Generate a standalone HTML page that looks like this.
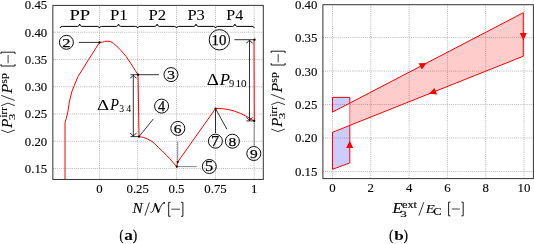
<!DOCTYPE html><html><head><meta charset="utf-8"><style>html,body{margin:0;padding:0;background:#fff;overflow:hidden}svg{display:block;will-change:transform}text{font-family:"Liberation Serif",serif;fill:#000;stroke:#000;stroke-width:0.12px}</style></head><body>
<svg width="534" height="244" viewBox="0 0 534 244">
<line x1="99.50" y1="5.4" x2="99.50" y2="179.45" stroke="#9a9a9a" stroke-width="0.7" stroke-dasharray="1 1.1"/>
<line x1="137.70" y1="5.4" x2="137.70" y2="179.45" stroke="#9a9a9a" stroke-width="0.7" stroke-dasharray="1 1.1"/>
<line x1="176.50" y1="5.4" x2="176.50" y2="179.45" stroke="#9a9a9a" stroke-width="0.7" stroke-dasharray="1 1.1"/>
<line x1="215.50" y1="5.4" x2="215.50" y2="179.45" stroke="#9a9a9a" stroke-width="0.7" stroke-dasharray="1 1.1"/>
<line x1="254.20" y1="5.4" x2="254.20" y2="179.45" stroke="#9a9a9a" stroke-width="0.7" stroke-dasharray="1 1.1"/>
<line x1="52.85" y1="168.50" x2="263.3" y2="168.50" stroke="#9a9a9a" stroke-width="0.7" stroke-dasharray="1 1.1"/>
<line x1="52.85" y1="141.25" x2="263.3" y2="141.25" stroke="#9a9a9a" stroke-width="0.7" stroke-dasharray="1 1.1"/>
<line x1="52.85" y1="114.00" x2="263.3" y2="114.00" stroke="#9a9a9a" stroke-width="0.7" stroke-dasharray="1 1.1"/>
<line x1="52.85" y1="86.75" x2="263.3" y2="86.75" stroke="#9a9a9a" stroke-width="0.7" stroke-dasharray="1 1.1"/>
<line x1="52.85" y1="59.50" x2="263.3" y2="59.50" stroke="#9a9a9a" stroke-width="0.7" stroke-dasharray="1 1.1"/>
<line x1="52.85" y1="32.25" x2="263.3" y2="32.25" stroke="#9a9a9a" stroke-width="0.7" stroke-dasharray="1 1.1"/>
<polyline points="65.00,179.20 65.00,122.70 66.30,118.30 67.80,112.10 69.50,101.00 72.00,91.20 74.40,85.10 78.00,76.50 88.70,59.40 99.50,42.40 102.60,42.20 104.60,41.40 108.00,41.20 110.60,41.60 113.50,43.40 116.40,45.80 121.30,50.80 126.20,56.50 131.10,63.90 135.20,70.40 138.00,74.70 139.00,136.70 141.00,136.90 143.40,137.50 147.10,138.80 150.80,140.70 154.50,143.60 158.20,147.20 162.30,151.00 166.40,155.20 170.00,158.90 173.40,162.90 176.80,166.70 177.70,162.00 215.50,108.60 219.00,108.50 222.30,108.70 228.40,109.50 234.60,111.20 240.70,113.50 246.90,116.60 251.80,119.50 254.30,121.00 254.00,39.70" fill="none" stroke="#ff0000" stroke-width="1" stroke-linejoin="round"/>
<rect x="52.85" y="5.4" width="210.45" height="174.05" fill="none" stroke="#333" stroke-width="1"/>
<text x="47.2" y="172.95" font-size="12.8" text-anchor="end">0.15</text>
<text x="47.2" y="145.70" font-size="12.8" text-anchor="end">0.20</text>
<text x="47.2" y="118.45" font-size="12.8" text-anchor="end">0.25</text>
<text x="47.2" y="91.20" font-size="12.8" text-anchor="end">0.30</text>
<text x="47.2" y="63.95" font-size="12.8" text-anchor="end">0.35</text>
<text x="47.2" y="36.70" font-size="12.8" text-anchor="end">0.40</text>
<text x="47.2" y="9.45" font-size="12.8" text-anchor="end">0.45</text>
<text x="99.50" y="192.9" font-size="12.8" text-anchor="middle">0</text>
<text x="137.70" y="192.9" font-size="12.8" text-anchor="middle">0.25</text>
<text x="176.50" y="192.9" font-size="12.8" text-anchor="middle">0.5</text>
<text x="215.50" y="192.9" font-size="12.8" text-anchor="middle">0.75</text>
<text x="254.20" y="192.9" font-size="12.8" text-anchor="middle">1</text>
<path d="M60.00,28.00 Q60.50,26.4 62.20,26.4 L77.50,26.4 Q79.20,26.4 79.70,24.10 Q80.20,26.4 81.90,26.4 L97.20,26.4 Q98.90,26.4 99.40,28.00 M99.40,28.00 Q99.90,26.4 101.60,26.4 L116.35,26.4 Q118.05,26.4 118.55,24.10 Q119.05,26.4 120.75,26.4 L135.50,26.4 Q137.20,26.4 137.70,28.00 M137.70,28.00 Q138.20,26.4 139.90,26.4 L154.90,26.4 Q156.60,26.4 157.10,24.10 Q157.60,26.4 159.30,26.4 L174.30,26.4 Q176.00,26.4 176.50,28.00 M176.50,28.00 Q177.00,26.4 178.70,26.4 L193.80,26.4 Q195.50,26.4 196.00,24.10 Q196.50,26.4 198.20,26.4 L213.30,26.4 Q215.00,26.4 215.50,28.00 M215.50,28.00 Q216.00,26.4 217.70,26.4 L232.70,26.4 Q234.40,26.4 234.90,24.10 Q235.40,26.4 237.10,26.4 L252.10,26.4 Q253.80,26.4 254.30,28.00" fill="none" stroke="#000" stroke-width="1.0"/>
<text x="69.44" y="19.50" font-size="15.11" textLength="20.75" lengthAdjust="spacingAndGlyphs" style="stroke-width:0.05px">PP</text>
<text x="109.95" y="19.50" font-size="15.00" textLength="17.73" lengthAdjust="spacingAndGlyphs" style="stroke-width:0.05px">P1</text>
<text x="148.50" y="19.50" font-size="14.94" textLength="17.64" lengthAdjust="spacingAndGlyphs" style="stroke-width:0.05px">P2</text>
<text x="187.41" y="19.50" font-size="14.94" textLength="17.37" lengthAdjust="spacingAndGlyphs" style="stroke-width:0.05px">P3</text>
<text x="226.32" y="19.50" font-size="15.06" textLength="16.94" lengthAdjust="spacingAndGlyphs" style="stroke-width:0.05px">P4</text>
<line x1="78.7" y1="42.4" x2="99.5" y2="42.4" stroke="#000" stroke-width="0.8"/>
<line x1="130.5" y1="74.7" x2="158.8" y2="74.7" stroke="#000" stroke-width="0.8"/>
<line x1="130.5" y1="136.6" x2="139.0" y2="136.6" stroke="#000" stroke-width="0.8"/>
<line x1="139.0" y1="136.6" x2="153.4" y2="118.9" stroke="#000" stroke-width="0.8"/>
<line x1="176.8" y1="166.6" x2="196.8" y2="166.6" stroke="#707070" stroke-width="0.85"/>
<line x1="177.7" y1="162.0" x2="177.7" y2="141.5" stroke="#707070" stroke-width="0.85"/>
<line x1="215.5" y1="108.6" x2="215.5" y2="133" stroke="#000" stroke-width="0.8"/>
<line x1="215.5" y1="108.6" x2="226.9" y2="129.2" stroke="#000" stroke-width="0.8"/>
<line x1="254.2" y1="121.0" x2="254.2" y2="145.9" stroke="#707070" stroke-width="0.85"/>
<line x1="246.3" y1="120.9" x2="254.3" y2="120.9" stroke="#000" stroke-width="0.8"/>
<line x1="234.4" y1="39.7" x2="255" y2="39.7" stroke="#000" stroke-width="0.8"/>
<line x1="133.3" y1="75.2" x2="133.3" y2="136.2" stroke="#000" stroke-width="0.8"/>
<path d="M130.10,78.20 Q132.70,76.55 133.30,75.20 Q133.90,76.55 136.50,78.20" fill="none" stroke="#000" stroke-width="0.8"/>
<path d="M130.10,133.20 Q132.70,134.85 133.30,136.20 Q133.90,134.85 136.50,133.20" fill="none" stroke="#000" stroke-width="0.8"/>
<line x1="249.5" y1="40.1" x2="249.5" y2="120.5" stroke="#000" stroke-width="0.8"/>
<path d="M246.30,43.10 Q248.90,41.45 249.50,40.10 Q250.10,41.45 252.70,43.10" fill="none" stroke="#000" stroke-width="0.8"/>
<path d="M246.30,117.50 Q248.90,119.15 249.50,120.50 Q250.10,119.15 252.70,117.50" fill="none" stroke="#000" stroke-width="0.8"/>
<circle cx="99.5" cy="42.4" r="1.1" fill="#000"/>
<circle cx="138.0" cy="74.7" r="1.1" fill="#000"/>
<circle cx="139.0" cy="136.6" r="1.1" fill="#000"/>
<circle cx="176.8" cy="166.7" r="1.1" fill="#000"/>
<circle cx="177.7" cy="162.0" r="1.1" fill="#000"/>
<circle cx="215.5" cy="108.6" r="1.1" fill="#000"/>
<circle cx="254.3" cy="120.9" r="1.1" fill="#000"/>
<circle cx="254.6" cy="39.7" r="1.1" fill="#000"/>
<circle cx="66.4" cy="42.3" r="7.0" fill="none" stroke="#000" stroke-width="0.95"/><text x="62.36" y="46.75" font-size="13.43" textLength="8.25" lengthAdjust="spacingAndGlyphs" style="stroke-width:0.25px">2</text>
<circle cx="171" cy="74.6" r="7.0" fill="none" stroke="#000" stroke-width="0.95"/><text x="166.94" y="79.05" font-size="13.43" textLength="8.00" lengthAdjust="spacingAndGlyphs" style="stroke-width:0.25px">3</text>
<circle cx="161.6" cy="106.1" r="7.0" fill="none" stroke="#000" stroke-width="0.95"/><text x="158.02" y="110.55" font-size="13.54" textLength="7.10" lengthAdjust="spacingAndGlyphs" style="stroke-width:0.25px">4</text>
<circle cx="209.3" cy="166.5" r="7.0" fill="none" stroke="#000" stroke-width="0.95"/><text x="205.06" y="170.95" font-size="13.59" textLength="8.20" lengthAdjust="spacingAndGlyphs" style="stroke-width:0.25px">5</text>
<circle cx="177.8" cy="128.4" r="7.0" fill="none" stroke="#000" stroke-width="0.95"/><text x="173.84" y="132.85" font-size="13.43" textLength="7.72" lengthAdjust="spacingAndGlyphs" style="stroke-width:0.25px">6</text>
<circle cx="215.4" cy="141.2" r="7.0" fill="none" stroke="#000" stroke-width="0.95"/><text x="211.04" y="145.65" font-size="13.59" textLength="8.15" lengthAdjust="spacingAndGlyphs" style="stroke-width:0.25px">7</text>
<circle cx="232.4" cy="141.2" r="7.0" fill="none" stroke="#000" stroke-width="0.95"/><text x="228.52" y="145.65" font-size="13.38" textLength="7.76" lengthAdjust="spacingAndGlyphs" style="stroke-width:0.25px">8</text>
<circle cx="253.8" cy="153.5" r="7.0" fill="none" stroke="#000" stroke-width="0.95"/><text x="250.00" y="157.95" font-size="13.43" textLength="7.72" lengthAdjust="spacingAndGlyphs" style="stroke-width:0.25px">9</text>
<circle cx="219.4" cy="39.8" r="10.2" fill="none" stroke="#000" stroke-width="0.95"/><text x="211.60" y="44.60" font-size="14.44" textLength="14.86" lengthAdjust="spacingAndGlyphs" style="stroke-width:0.25px">10</text>
<text x="97.09" y="109.60" font-size="15.61" textLength="12.13" lengthAdjust="spacingAndGlyphs" style="stroke-width:0.03px">Δ</text>
<text x="110.27" y="109.60" font-size="15.73" font-style="italic" textLength="8.70" lengthAdjust="spacingAndGlyphs" style="stroke-width:0.03px">P</text>
<text x="119.34" y="111.80" font-size="9.51" textLength="4.85" lengthAdjust="spacingAndGlyphs" style="stroke-width:0.03px">3</text>
<text x="126.20" y="111.80" font-size="9.58" textLength="4.95" lengthAdjust="spacingAndGlyphs" style="stroke-width:0.03px">4</text>
<text x="206.79" y="85.00" font-size="15.76" textLength="12.13" lengthAdjust="spacingAndGlyphs" style="stroke-width:0.03px">Δ</text>
<text x="219.88" y="85.00" font-size="15.88" font-style="italic" textLength="10.25" lengthAdjust="spacingAndGlyphs" style="stroke-width:0.03px">P</text>
<text x="228.96" y="86.60" font-size="9.81" textLength="5.26" lengthAdjust="spacingAndGlyphs" style="stroke-width:0.03px">9</text>
<text x="235.52" y="86.60" font-size="9.77" textLength="11.20" lengthAdjust="spacingAndGlyphs" style="stroke-width:0.03px">10</text>
<g transform="translate(12.0,135) rotate(-90)"><path d="M4.9,-10.8 L2.4,-4.1 L4.9,2.8" fill="none" stroke="#000" stroke-width="0.8"/><text x="6.98" y="0.00" font-size="14.50" font-style="italic" textLength="9.42" lengthAdjust="spacingAndGlyphs">P</text><text x="14.90" y="2.70" font-size="9.06" textLength="6.30" lengthAdjust="spacingAndGlyphs">3</text><text x="17.48" y="-5.00" font-size="10.26" textLength="10.32" lengthAdjust="spacingAndGlyphs">irr</text><path d="M29.4,-10.8 L31.9,-4.1 L29.4,2.8" fill="none" stroke="#000" stroke-width="0.8"/><line x1="34.5" y1="2.7" x2="39.7" y2="-10.9" stroke="#000" stroke-width="0.8"/><text x="41.58" y="0.00" font-size="14.50" font-style="italic" textLength="9.73" lengthAdjust="spacingAndGlyphs">P</text><text x="51.33" y="-5.30" font-size="9.60" textLength="10.43" lengthAdjust="spacingAndGlyphs">sp</text><path d="M70.90,-11.00 L69.00,-11.00 L69.00,3.00 L70.90,3.00" fill="none" stroke="#000" stroke-width="0.9"/><line x1="71.7" y1="-3.9" x2="80.0" y2="-3.9" stroke="#000" stroke-width="0.75"/><path d="M80.90,-11.00 L82.80,-11.00 L82.80,3.00 L80.90,3.00" fill="none" stroke="#000" stroke-width="0.9"/></g>
<text x="132.41" y="212.50" font-size="13.89" font-style="italic" textLength="10.19" lengthAdjust="spacingAndGlyphs">N</text>
<line x1="144.9" y1="215.7" x2="149.4" y2="202.4" stroke="#000" stroke-width="0.8"/>
<path d="M150.4,212.0 Q151.6,213.0 153.0,211.2 L155.4,203.4" fill="none" stroke="#000" stroke-width="0.85"/><path d="M155.2,203.2 L158.6,212.4" fill="none" stroke="#000" stroke-width="1.7"/><path d="M158.4,212.6 Q160.3,206.5 162.0,204.2 Q163.0,203.0 164.6,202.8" fill="none" stroke="#000" stroke-width="0.85"/><circle cx="164.2" cy="202.9" r="0.8" fill="#000"/>
<path d="M170.50,202.30 L168.70,202.30 L168.70,216.30 L170.50,216.30" fill="none" stroke="#000" stroke-width="0.9"/>
<line x1="171.3" y1="209.2" x2="180.0" y2="209.2" stroke="#000" stroke-width="0.75"/>
<path d="M181.10,202.30 L182.90,202.30 L182.90,216.30 L181.10,216.30" fill="none" stroke="#000" stroke-width="0.9"/>
<text x="119.39" y="240.40" font-size="15.40" textLength="3.79" lengthAdjust="spacingAndGlyphs" style="stroke-width:0.35px">(</text>
<text x="124.24" y="240.10" font-size="14.26" font-weight="bold" textLength="8.62" lengthAdjust="spacingAndGlyphs" style="stroke-width:0">a</text>
<text x="133.00" y="240.40" font-size="15.40" textLength="4.14" lengthAdjust="spacingAndGlyphs" style="stroke-width:0.35px">)</text>
<line x1="332.50" y1="4.7" x2="332.50" y2="178.6" stroke="#9a9a9a" stroke-width="0.7" stroke-dasharray="1 1.1"/>
<line x1="370.80" y1="4.7" x2="370.80" y2="178.6" stroke="#9a9a9a" stroke-width="0.7" stroke-dasharray="1 1.1"/>
<line x1="409.10" y1="4.7" x2="409.10" y2="178.6" stroke="#9a9a9a" stroke-width="0.7" stroke-dasharray="1 1.1"/>
<line x1="447.40" y1="4.7" x2="447.40" y2="178.6" stroke="#9a9a9a" stroke-width="0.7" stroke-dasharray="1 1.1"/>
<line x1="485.70" y1="4.7" x2="485.70" y2="178.6" stroke="#9a9a9a" stroke-width="0.7" stroke-dasharray="1 1.1"/>
<line x1="524.00" y1="4.7" x2="524.00" y2="178.6" stroke="#9a9a9a" stroke-width="0.7" stroke-dasharray="1 1.1"/>
<line x1="322.9" y1="171.50" x2="533.4" y2="171.50" stroke="#9a9a9a" stroke-width="0.7" stroke-dasharray="1 1.1"/>
<line x1="322.9" y1="138.02" x2="533.4" y2="138.02" stroke="#9a9a9a" stroke-width="0.7" stroke-dasharray="1 1.1"/>
<line x1="322.9" y1="104.55" x2="533.4" y2="104.55" stroke="#9a9a9a" stroke-width="0.7" stroke-dasharray="1 1.1"/>
<line x1="322.9" y1="71.08" x2="533.4" y2="71.08" stroke="#9a9a9a" stroke-width="0.7" stroke-dasharray="1 1.1"/>
<line x1="322.9" y1="37.60" x2="533.4" y2="37.60" stroke="#9a9a9a" stroke-width="0.7" stroke-dasharray="1 1.1"/>
<polygon points="332.5,97.4 349.8,97.4 349.8,103.1 332.5,112.1" fill="#0000ff" fill-opacity="0.2"/>
<polygon points="332.5,132.3 349.8,125.4 349.8,162.9 332.5,169.3" fill="#0000ff" fill-opacity="0.2"/>
<polygon points="349.8,103.1 523.3,12.7 523.3,56.2 349.8,125.4" fill="#ff0000" fill-opacity="0.2"/>
<polyline points="349.8,103.1 349.8,97.4 332.5,97.4 332.5,112.1 523.3,12.7 523.3,56.2 332.5,132.3 332.5,169.3 349.8,162.9 349.8,125.4" stroke="#ff0000" stroke-width="1" fill="none" stroke-linejoin="miter"/>
<line x1="349.8" y1="103.1" x2="349.8" y2="125.4" stroke="#ff0000" stroke-opacity="0.6" stroke-width="1"/>
<polygon points="523.30,40.20 519.77,33.00 526.83,33.00" fill="#ff0000"/>
<polygon points="349.70,140.70 353.23,147.90 346.17,147.90" fill="#ff0000"/>
<polygon points="426.59,63.09 421.84,69.54 418.58,63.28" fill="#ff0000"/>
<polygon points="429.06,93.83 434.44,87.89 437.05,94.44" fill="#ff0000"/>
<rect x="322.9" y="4.7" width="210.50" height="173.90" fill="none" stroke="#333" stroke-width="1"/>
<text x="317.4" y="175.95" font-size="12.8" text-anchor="end">0.15</text>
<text x="317.4" y="142.47" font-size="12.8" text-anchor="end">0.20</text>
<text x="317.4" y="109.00" font-size="12.8" text-anchor="end">0.25</text>
<text x="317.4" y="75.53" font-size="12.8" text-anchor="end">0.30</text>
<text x="317.4" y="42.05" font-size="12.8" text-anchor="end">0.35</text>
<text x="317.4" y="8.57" font-size="12.8" text-anchor="end">0.40</text>
<text x="332.50" y="191.7" font-size="12.8" text-anchor="middle">0</text>
<text x="370.80" y="191.7" font-size="12.8" text-anchor="middle">2</text>
<text x="409.10" y="191.7" font-size="12.8" text-anchor="middle">4</text>
<text x="447.40" y="191.7" font-size="12.8" text-anchor="middle">6</text>
<text x="485.70" y="191.7" font-size="12.8" text-anchor="middle">8</text>
<text x="524.00" y="191.7" font-size="12.8" text-anchor="middle">10</text>
<g transform="translate(282.1,134) rotate(-90)"><path d="M4.9,-10.8 L2.4,-4.1 L4.9,2.8" fill="none" stroke="#000" stroke-width="0.8"/><text x="6.98" y="0.00" font-size="14.50" font-style="italic" textLength="9.42" lengthAdjust="spacingAndGlyphs">P</text><text x="14.90" y="2.70" font-size="9.06" textLength="6.30" lengthAdjust="spacingAndGlyphs">3</text><text x="17.48" y="-5.00" font-size="10.26" textLength="10.32" lengthAdjust="spacingAndGlyphs">irr</text><path d="M29.4,-10.8 L31.9,-4.1 L29.4,2.8" fill="none" stroke="#000" stroke-width="0.8"/><line x1="34.5" y1="2.7" x2="39.7" y2="-10.9" stroke="#000" stroke-width="0.8"/><text x="41.58" y="0.00" font-size="14.50" font-style="italic" textLength="9.73" lengthAdjust="spacingAndGlyphs">P</text><text x="51.33" y="-5.30" font-size="9.60" textLength="10.43" lengthAdjust="spacingAndGlyphs">sp</text><path d="M70.90,-11.00 L69.00,-11.00 L69.00,3.00 L70.90,3.00" fill="none" stroke="#000" stroke-width="0.9"/><line x1="71.7" y1="-3.9" x2="80.0" y2="-3.9" stroke="#000" stroke-width="0.75"/><path d="M80.90,-11.00 L82.80,-11.00 L82.80,3.00 L80.90,3.00" fill="none" stroke="#000" stroke-width="0.9"/></g>
<text x="392.50" y="212.80" font-size="13.74" font-style="italic" textLength="9.95" lengthAdjust="spacingAndGlyphs">E</text>
<text x="401.90" y="207.60" font-size="9.73" textLength="15.15" lengthAdjust="spacingAndGlyphs">ext</text>
<text x="400.18" y="216.50" font-size="8.45" textLength="6.55" lengthAdjust="spacingAndGlyphs">3</text>
<line x1="418.9" y1="215.7" x2="423.8" y2="202.2" stroke="#000" stroke-width="0.8"/>
<text x="425.79" y="212.60" font-size="13.44" font-style="italic" textLength="9.05" lengthAdjust="spacingAndGlyphs">E</text>
<text x="433.30" y="214.70" font-size="9.96" textLength="8.27" lengthAdjust="spacingAndGlyphs">C</text>
<path d="M450.40,202.20 L448.60,202.20 L448.60,215.80 L450.40,215.80" fill="none" stroke="#000" stroke-width="0.9"/>
<line x1="451.8" y1="209.0" x2="459.9" y2="209.0" stroke="#000" stroke-width="0.75"/>
<path d="M461.40,202.20 L463.20,202.20 L463.20,215.80 L461.40,215.80" fill="none" stroke="#000" stroke-width="0.9"/>
<text x="389.19" y="240.40" font-size="15.40" textLength="3.79" lengthAdjust="spacingAndGlyphs" style="stroke-width:0.35px">(</text>
<text x="394.39" y="240.10" font-size="13.09" font-weight="bold" textLength="9.52" lengthAdjust="spacingAndGlyphs" style="stroke-width:0">b</text>
<text x="403.70" y="240.40" font-size="15.40" textLength="4.14" lengthAdjust="spacingAndGlyphs" style="stroke-width:0.35px">)</text>
</svg></body></html>
